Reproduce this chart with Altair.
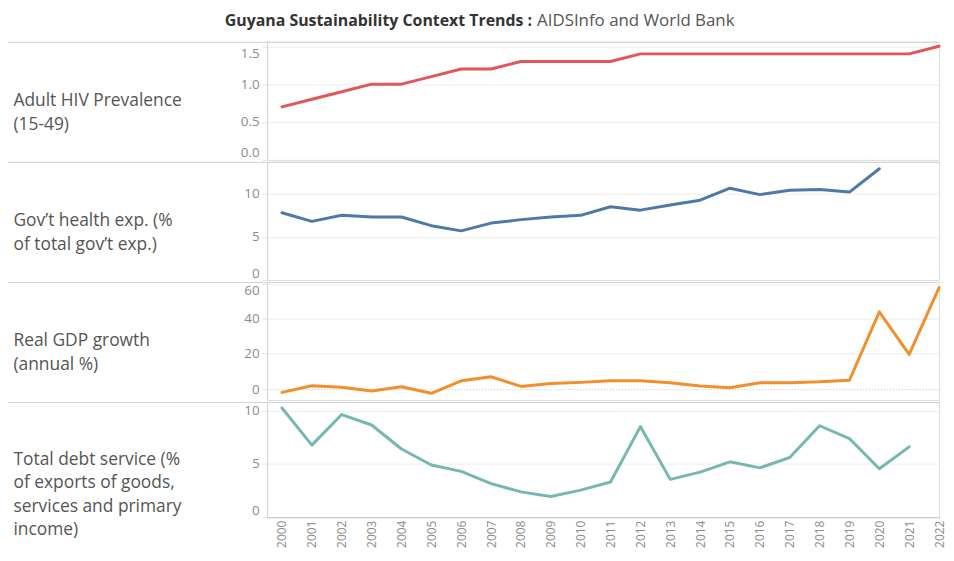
import altair as alt
import pandas as pd

years = list(range(2000, 2023))
hiv = [0.7, 0.8, 0.9, 1.0, 1.0, 1.1, 1.2, 1.2, 1.3, 1.3, 1.3, 1.3, 1.4, 1.4, 1.4, 1.4,
       1.4, 1.4, 1.4, 1.4, 1.4, 1.4, 1.5]
health = [7.8, 6.8, 7.5, 7.3, 7.3, 6.3, 5.7, 6.6, 7.0, 7.3, 7.5, 8.5, 8.1, 8.7, 9.25,
          10.65, 9.9, 10.4, 10.5, 10.2, 12.9, None, None]
gdp = [-1.9, 1.9, 1.0, -1.1, 1.3, -2.4, 4.7, 7.0, 1.5, 3.2, 3.8, 4.7, 4.7, 3.6, 1.7,
       0.7, 3.6, 3.6, 4.1, 5.0, 44.0, 19.7, 57.8]
debt = [10.25, 6.76, 9.63, 8.65, 6.4, 4.9, 4.3, 3.15, 2.38, 1.95, 2.54, 3.3, 8.5, 3.55,
        4.23, 5.2, 4.63, 5.6, 8.58, 7.38, 4.54, 6.6, None]

row_labels = [
    ["Adult HIV Prevalence", "(15-49)"],
    ["Gov\u2019t health exp. (%", "of total gov\u2019t exp.)"],
    ["Real GDP growth", "(annual %)"],
    ["Total debt service (%", "of exports of goods,", "services and primary", "income)"],
]
colors = ["#E15759", "#4E79A7", "#F28E2B", "#76B7B2"]
title_bold = "Guyana Sustainability Context Trends :"
title_rest = "AIDSInfo and World Bank"

W = 677
FONT = "Open Sans"
one = pd.DataFrame({"k": [0]})


def panel(values, color, label, domain, ticks, fmt, flush, height, show_x=False,
          with_title=False, zero_rule=False):
    df = pd.DataFrame({"year": years, "value": values}).dropna()
    if show_x:
        xaxis = alt.Axis(values=years, format="d", labelAngle=270, grid=False,
                         domainColor="#c4c4c4", domainWidth=1, ticks=False,
                         labelPadding=3, labelFontSize=12, labelColor="#8c8c8c",
                         labelFont=FONT, labelFlush=False, title=None)
    else:
        xaxis = None
    if zero_rule:
        grid_color = {"condition": {"test": "datum.value === 0", "value": "#bdbdbd"},
                      "value": "#ededed"}
        grid_dash = {"condition": {"test": "datum.value === 0", "value": [1, 2]},
                     "value": []}
    else:
        grid_color = {"condition": {"test": "datum.value === 0", "value": "transparent"},
                      "value": "#ededed"}
        grid_dash = []
    yaxis = alt.Axis(values=ticks, format=fmt, title=label, titleAngle=0,
                     titleAlign="left", titleBaseline="middle", titleX=-256,
                     titleY=height / 2, titleFontSize=17.5, titleFont=FONT,
                     titleColor="#555555", titleFontWeight="normal",
                     titleLineHeight=23.5, labelFontSize=13.5, labelFont=FONT,
                     labelColor="#8c8c8c", labelFlush=flush, gridColor=grid_color,
                     gridDash=grid_dash, domainColor="#d4d4d4", tickColor="#e2e2e2",
                     tickSize=5, labelPadding=3)
    line = alt.Chart(df).mark_line(color=color, strokeWidth=3, strokeCap="round",
                                   strokeJoin="round").encode(
        x=alt.X("year:Q", scale=alt.Scale(domain=[1999.5, 2022], nice=False, zero=False),
                axis=xaxis),
        y=alt.Y("value:Q", scale=alt.Scale(domain=domain, nice=False, zero=False),
                axis=yaxis),
    )
    sep = alt.Chart(one).mark_rule(color="#d2d2d2", strokeWidth=1).encode(
        x=alt.value(-268), x2=alt.value(W), y=alt.value(0.5))
    layers = [line, sep]
    if with_title:
        top = alt.Chart(one).mark_rule(strokeWidth=2, opacity=0).encode(
            x=alt.value(0), x2=alt.value(10), y=alt.value(-31))
        t1 = alt.Chart(one).mark_text(align="right", baseline="middle", font=FONT,
                                      fontSize=16, fontWeight="bold", color="#333333").encode(
            x=alt.value(267), y=alt.value(-21), text=alt.value(title_bold))
        t2 = alt.Chart(one).mark_text(align="left", baseline="middle", font=FONT,
                                      fontSize=17, color="#555555").encode(
            x=alt.value(272), y=alt.value(-21), text=alt.value(title_rest))
        layers += [top, t1, t2]
    return alt.layer(*layers).properties(width=W, height=height)


p1 = panel(hiv, colors[0], row_labels[0], [0, 1.56], [0, 0.5, 1.0, 1.5], ".1f", 10, 119,
           with_title=True)
p2 = panel(health, colors[1], row_labels[1], [0, 13.7], [0, 5, 10], "d", 3, 119)
p3 = panel(gdp, colors[2], row_labels[2], [-6.3, 61], [0, 20, 40, 60], "d", 10, 119,
           zero_rule=True)
p4 = panel(debt, colors[3], row_labels[3], [0, 10.8], [0, 5, 10], "d", 3, 116, show_x=True)

chart = alt.vconcat(p1, p2, p3, p4, spacing=0).resolve_scale(y="independent").properties(
    padding={"left": -8, "top": 0, "right": 0, "bottom": 0}
).configure_view(stroke=None).configure(background="white")

chart.save("out.html", embed_options={"renderer": "svg", "actions": False})
